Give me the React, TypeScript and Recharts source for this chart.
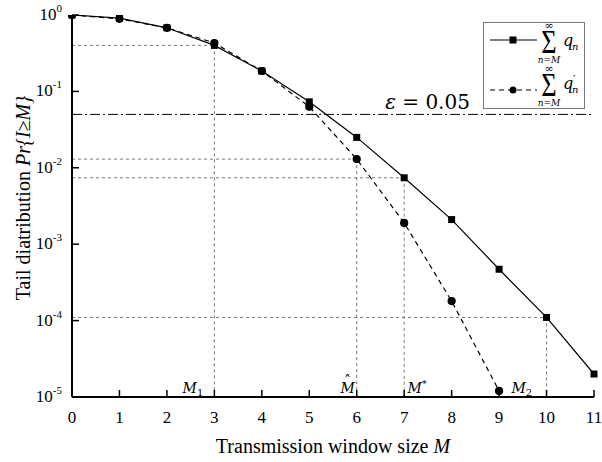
import { LineChart, Line, XAxis, YAxis, ReferenceLine, ReferenceDot, Legend } from 'recharts';

const windowSizes = [0, 1, 2, 3, 4, 5, 6, 7, 8, 9, 10, 11];
const tailQ = [1.0, 0.91, 0.68, 0.4, 0.185, 0.073, 0.025, 0.0074, 0.0021, 0.00047, 0.00011, 0.00002];
const tailQPrime = [1.0, 0.89, 0.68, 0.43, 0.185, 0.063, 0.013, 0.0019, 0.00018, 0.000012, null, null];
const yTicks = [1e-5, 1e-4, 1e-3, 1e-2, 1e-1, 1];
const epsilon = 0.05;
const guideM = [3, 6, 7, 10];
const guideLevel = [0.4, 0.013, 0.0074, 0.00011];
// annotation labels under the curves
const markNames = ['M1', 'Mhat', 'Mstar', 'M2'];
const markAt = [2.33, 5.66, 7.07, 9.26];

const FONT = '"Liberation Serif", "Times New Roman", serif';
const MATH = '"DejaVu Serif", serif';
const Y_MIN = 1e-5;

const data = windowSizes.map((m, i) => ({ m, q: tailQ[i], qp: tailQPrime[i] }));

function XTickBottom({ x, y, payload }: any) {
    return (
        <g>
            <line x1={x} x2={x} y1={y} y2={y - 7} stroke="#000" strokeWidth={1.5} />
            <text x={x} y={y + 26} textAnchor="middle" fontSize={17} fontFamily={FONT} fill="#000">
                {payload.value}
            </text>
        </g>
    );
}

function XTickTop({ x, y }: any) {
    return <line x1={x} x2={x} y1={y} y2={y + 7} stroke="#000" strokeWidth={1.5} />;
}

function YTickLeft({ x, y, payload }: any) {
    const exp = Math.round(Math.log10(payload.value));
    return (
        <g>
            <line x1={x} x2={x + 7} y1={y} y2={y} stroke="#000" strokeWidth={1.5} />
            <text x={x - 10} y={y + 5} textAnchor="end" fontSize={17} fontFamily={FONT} fill="#000">
                10
                <tspan dy={-8} fontSize={11}>{exp}</tspan>
            </text>
        </g>
    );
}

function YTickRight({ x, y }: any) {
    return <line x1={x} x2={x - 7} y1={y} y2={y} stroke="#000" strokeWidth={1.5} />;
}

function SquareDot({ cx, cy, index }: any) {
    if (cx == null || cy == null) return <g key={index} />;
    return <rect key={index} x={cx - 3.5} y={cy - 3.5} width={7} height={7} fill="#000" />;
}

function MarkLabel({ cx, cy, name }: any) {
    const base = cy - 4;
    const common = { fontFamily: MATH, fill: '#000' };
    if (name === 'M1' || name === 'M2') {
        return (
            <text x={cx} y={base} fontSize={14} {...common}>
                <tspan fontStyle="italic">M</tspan>
                <tspan dy={3} fontSize={10}>{name.slice(1)}</tspan>
            </text>
        );
    }
    if (name === 'Mstar') {
        return (
            <text x={cx} y={base} fontSize={14} {...common}>
                <tspan fontStyle="italic">M</tspan>
                <tspan dy={-6} fontSize={10}>*</tspan>
            </text>
        );
    }
    return (
        <g>
            <text x={cx} y={base} fontSize={14} fontStyle="italic" {...common}>M</text>
            <text x={cx + 7} y={base - 7} fontSize={14} textAnchor="middle" {...common}>ˆ</text>
        </g>
    );
}

function EpsilonLabel({ cx, cy }: any) {
    return (
        <text x={cx} y={cy - 5} fontSize={20} fontFamily={MATH} fill="#000">
            <tspan fontStyle="italic">ε</tspan> = 0.05
        </text>
    );
}

function SumSymbol({ x, c, prime }: { x: number; c: number; prime?: boolean }) {
    // c is the vertical centre of the sigma glyph
    return (
        <g fill="#000">
            <text x={x} y={c - 13} fontSize={11} textAnchor="middle" fontFamily={MATH}>∞</text>
            <text
                transform={`translate(${x} ${c + 11}) scale(0.8 1)`}
                fontSize={33}
                textAnchor="middle"
                fontFamily={FONT}
            >
                Σ
            </text>
            <text x={x} y={c + 21} fontSize={9} textAnchor="middle" fontFamily={MATH}>
                <tspan fontStyle="italic">n</tspan>=<tspan fontStyle="italic">M</tspan>
            </text>
            <text x={x + 14} y={c + 4} fontSize={16} fontStyle="italic" fontFamily={MATH}>q</text>
            {prime ? (
                <text x={x + 24} y={c - 2} fontSize={11} fontFamily={MATH}>′</text>
            ) : null}
            <text x={x + 23} y={c + 8} fontSize={10} fontStyle="italic" fontFamily={MATH}>n</text>
        </g>
    );
}

function LegendBox() {
    return (
        <svg width={102} height={94} style={{ display: 'block', overflow: 'visible' }}>
            <rect x={0.5} y={6.5} width={101} height={86} fill="#fff" stroke="#777" strokeWidth={1} />
            <line x1={7} x2={54} y1={24} y2={24} stroke="#000" strokeWidth={1.2} />
            <rect x={26.5} y={20.5} width={7} height={7} fill="#000" />
            <SumSymbol x={66} c={26} />
            <line x1={7} x2={54} y1={74} y2={74} stroke="#000" strokeWidth={1.2} strokeDasharray="5 4" />
            <circle cx={30} cy={74} r={3.5} fill="#000" />
            <SumSymbol x={66} c={69} prime />
        </svg>
    );
}

export default function App() {
    return (
        <div style={{ position: 'absolute', left: 0, top: 0, background: '#fff' }}>
            <LineChart width={602} height={462} data={data} margin={{ top: 15, right: 8, bottom: 0, left: 0 }}>
                <XAxis
                    xAxisId="b"
                    dataKey="m"
                    type="number"
                    domain={[0, 11]}
                    ticks={windowSizes}
                    interval={0}
                    height={65}
                    tickSize={0}
                    tickMargin={0}
                    tickLine={false}
                    tick={XTickBottom}
                    axisLine={{ stroke: '#000', strokeWidth: 2 }}
                    label={{
                        content: ({ viewBox }: any) => (
                            <text
                                x={viewBox.x + viewBox.width / 2}
                                y={viewBox.y + 56}
                                textAnchor="middle"
                                fontSize={20}
                                fontFamily={FONT}
                                fill="#000"
                            >
                                Transmission window size <tspan fontStyle="italic">M</tspan>
                            </text>
                        ),
                    }}
                />
                <XAxis
                    xAxisId="t"
                    orientation="top"
                    dataKey="m"
                    type="number"
                    domain={[0, 11]}
                    ticks={windowSizes}
                    interval={0}
                    height={0}
                    tickSize={0}
                    tickMargin={0}
                    tickLine={false}
                    tick={XTickTop}
                    axisLine={{ stroke: '#000', strokeWidth: 2 }}
                />
                <YAxis
                    yAxisId="l"
                    scale="log"
                    domain={[Y_MIN, 1]}
                    allowDataOverflow
                    ticks={yTicks}
                    interval={0}
                    width={72}
                    tickSize={0}
                    tickMargin={0}
                    tickLine={false}
                    tick={YTickLeft}
                    axisLine={{ stroke: '#000', strokeWidth: 2 }}
                    label={{
                        content: ({ viewBox }: any) => {
                            const cx = 30;
                            const cy = viewBox.y + viewBox.height / 2 - 8;
                            return (
                                <text
                                    x={cx}
                                    y={cy}
                                    transform={`rotate(-90 ${cx} ${cy})`}
                                    textAnchor="middle"
                                    fontSize={20}
                                    fontFamily={FONT}
                                    fill="#000"
                                >
                                    Tail diatribution <tspan fontStyle="italic">Pr{'{'}I≥M{'}'}</tspan>
                                </text>
                            );
                        },
                    }}
                />
                <YAxis
                    yAxisId="r"
                    orientation="right"
                    scale="log"
                    domain={[Y_MIN, 1]}
                    allowDataOverflow
                    ticks={yTicks}
                    interval={0}
                    width={0}
                    tickSize={0}
                    tickMargin={0}
                    tickLine={false}
                    tick={YTickRight}
                    axisLine={{ stroke: '#000', strokeWidth: 2 }}
                />

                {guideM.map((m, i) => (
                    <ReferenceLine
                        key={`h${m}`}
                        xAxisId="b"
                        yAxisId="l"
                        segment={[{ x: 0, y: guideLevel[i] }, { x: m, y: guideLevel[i] }]}
                        stroke="#777"
                        strokeDasharray="3 3"
                        strokeWidth={1}
                    />
                ))}
                {guideM.map((m, i) => (
                    <ReferenceLine
                        key={`v${m}`}
                        xAxisId="b"
                        yAxisId="l"
                        segment={[{ x: m, y: guideLevel[i] }, { x: m, y: Y_MIN }]}
                        stroke="#777"
                        strokeDasharray="3 3"
                        strokeWidth={1}
                    />
                ))}
                <ReferenceLine
                    xAxisId="b"
                    yAxisId="l"
                    y={epsilon}
                    stroke="#000"
                    strokeWidth={1}
                    strokeDasharray="10 3 2 3"
                />
                <ReferenceDot
                    xAxisId="b"
                    yAxisId="l"
                    x={6.6}
                    y={epsilon}
                    r={0}
                    shape={(p: any) => <EpsilonLabel {...p} />}
                />
                {markNames.map((name, i) => (
                    <ReferenceDot
                        key={name}
                        xAxisId="b"
                        yAxisId="l"
                        x={markAt[i]}
                        y={Y_MIN}
                        r={0}
                        shape={(p: any) => <MarkLabel {...p} name={name} />}
                    />
                ))}

                <Line
                    xAxisId="b"
                    yAxisId="l"
                    type="linear"
                    dataKey="q"
                    stroke="#000"
                    strokeWidth={1.2}
                    dot={(p: any) => <SquareDot {...p} />}
                    isAnimationActive={false}
                />
                <Line
                    xAxisId="b"
                    yAxisId="l"
                    type="linear"
                    dataKey="qp"
                    stroke="#000"
                    strokeWidth={1.2}
                    strokeDasharray="5 4"
                    dot={{ r: 3.5, fill: '#000', stroke: '#000', strokeDasharray: '' }}
                    isAnimationActive={false}
                />
                <Legend
                    layout="horizontal"
                    verticalAlign="middle"
                    align="center"
                    content={() => <LegendBox />}
                    wrapperStyle={{ top: 16, left: 483, width: 102, height: 94 }}
                />
            </LineChart>
        </div>
    );
}
